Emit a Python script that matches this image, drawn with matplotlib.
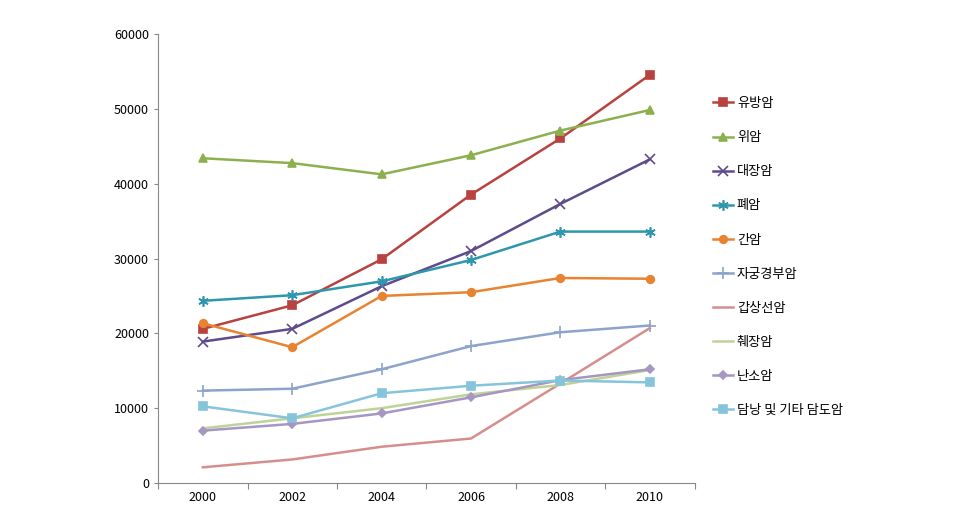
import matplotlib
matplotlib.use("Agg")
import matplotlib.pyplot as plt
import numpy as np

plt.rcParams['font.family'] = ['Noto Sans CJK KR', 'DejaVu Sans']

## DATA
years = ['2000', '2002', '2004', '2006', '2008', '2010']
series_names = ['유방암', '위암', '대장암', '폐암', '간암', '자궁경부암',
                '갑상선암', '췌장암', '난소암', '담낭 및 기타 담도암']
breast = [20600, 23750, 29900, 38550, 46050, 54550]
stomach = [43400, 42750, 41250, 43800, 47100, 49850]
colon = [18900, 20600, 26300, 31000, 37300, 43250]
lung = [24350, 25100, 26950, 29800, 33600, 33600]
liver = [21350, 18150, 25000, 25500, 27400, 27300]
cervix = [12350, 12600, 15200, 18300, 20150, 21050]
thyroid = [2100, 3150, 4850, 5950, 13300, 20700]
pancreas = [7300, 8650, 10000, 11850, 13100, 15100]
ovary = [7000, 7900, 9300, 11450, 13750, 15200]
gallbladder = [10250, 8650, 12000, 13000, 13700, 13450]
#

## STYLES
data = [breast, stomach, colon, lung, liver, cervix, thyroid, pancreas, ovary, gallbladder]
colors = ['#B8423F', '#8DB04E', '#5E4B8B', '#2E97AE', '#E88332',
          '#8CA3CC', '#D68E8C', '#BFD396', '#A596C2', '#86C4DB']
markers = ['s', '^', 'x', (6, 2, 0), 'o', '+', None, None, 'D', 's']
msizes = [5.5, 6, 6.5, 7.5, 5.5, 8, 0, 0, 4.5, 5.5]
#

fig = plt.figure(figsize=(9.7, 5.26), dpi=100)
ax = fig.add_axes([0.163, 0.0817, 0.553, 0.8536])

x = np.arange(len(years))
for vals, name, c, m, ms in zip(data, series_names, colors, markers, msizes):
    ax.plot(x, vals, color=c, lw=1.8, marker=m, markersize=ms,
            markeredgewidth=1.2, label=name)

ax.set_xlim(-0.5, len(years) - 0.5)
ax.set_ylim(0, 60000)
ax.set_yticks(np.arange(0, 60001, 10000))
ax.set_xticks(np.arange(-0.5, len(years), 1))
ax.set_xticklabels([])
ax.set_xticks(x, minor=True)
ax.set_xticklabels(years, minor=True)
ax.tick_params(axis='x', which='minor', length=0, pad=6, labelsize=9)
ax.tick_params(axis='x', which='major', length=4, color='#888888')
ax.tick_params(axis='y', length=3, color='#888888', labelsize=9)

for s in ['top', 'right']:
    ax.spines[s].set_visible(False)
for s in ['left', 'bottom']:
    ax.spines[s].set_color('#888888')

fig.legend(loc='upper left', bbox_to_anchor=(0.723, 0.838), frameon=False,
           fontsize=9.5, labelspacing=1.6, handlelength=1.5, handletextpad=0.3)

plt.savefig('out.png', dpi=100)
